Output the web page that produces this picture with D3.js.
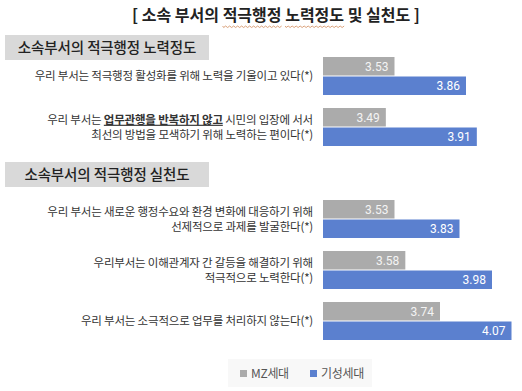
<!DOCTYPE html>
<html><head><meta charset="utf-8">
<script src="https://cdn.jsdelivr.net/npm/d3@7"></script>
<style>
html,body{margin:0;padding:0;background:#fff;}
svg{display:block;font-family:"Noto Sans CJK KR","Noto Sans",sans-serif;}
</style></head>
<body>
<svg id="chart" width="522" height="391"></svg>
<script>
const title = "[ 소속 부서의 적극행정 노력정도 및 실천도 ]";
const sections = ["소속부서의 적극행정 노력정도", "소속부서의 적극행정 실천도"];
const seriesNames = ["MZ세대", "기성세대"];
const itemSection = [0, 0, 1, 1, 1];
// each line: array of [text, emphasised?]
const itemLabels = [
  [[["우리 부서는 적극행정 활성화를 위해 노력을 기울이고 있다(*)", false]]],
  [[["우리 부서는 ", false], ["업무관행을 반복하지 않고", true], [" 시민의 입장에 서서", false]],
   [["최선의 방법을 모색하기 위해 노력하는 편이다(*)", false]]],
  [[["우리 부서는 새로운 행정수요와 환경 변화에 대응하기 위해", false]],
   [["선제적으로 과제를 발굴한다(*)", false]]],
  [[["우리부서는 이해관계자 간 갈등을 해결하기 위해", false]],
   [["적극적으로 노력한다(*)", false]]],
  [[["우리 부서는 소극적으로 업무를 처리하지 않는다(*)", false]]]
];
const mzValues = [3.53, 3.49, 3.53, 3.58, 3.74];
const giValues = [3.86, 3.91, 3.83, 3.98, 4.07];
const colors = ["#ababab", "#5b80cf"];

const svg = d3.select("#chart");

// title
const titleText = svg.append("text")
  .attr("x", 276).attr("y", 21).attr("text-anchor", "middle")
  .attr("font-size", 16).attr("font-weight", 700).attr("fill", "#222")
  .text(title);
// spell-check squiggles under two words
["적극행정", "노력정도"].forEach(w => {
  const node = titleText.node();
  const i = title.indexOf(w);
  const x0 = node.getStartPositionOfChar(i).x;
  const x1 = node.getEndPositionOfChar(i + w.length - 1).x;
  let d = `M${x0},26`;
  for (let x = x0; x < x1; x += 2) d += `L${x + 1},${(Math.round((x - x0) / 2) % 2) ? 26 : 27.5}`;
  svg.append("path").attr("d", d).attr("fill", "none")
    .attr("stroke", "#d08a5a").attr("stroke-width", 0.8);
});

const x = d3.scaleLinear().domain([3.2, 4.1]).range([323, 518]);

const sectionLayout = [
  {header: [35, 60], bars: [57, 146]},
  {header: [162, 187], bars: [200, 340]}
];

sections.forEach((s, si) => {
  const L = sectionLayout[si];
  svg.append("rect").attr("x", 5).attr("y", L.header[0]).attr("width", 204)
    .attr("height", L.header[1] - L.header[0]).attr("fill", "#d9d9d9");
  svg.append("text").attr("x", 107).attr("y", (L.header[0] + L.header[1]) / 2 + 5)
    .attr("text-anchor", "middle").attr("font-size", 14.5).attr("font-weight", 500)
    .attr("letter-spacing", -0.1).attr("fill", "#222").text(s);

  const idx = d3.range(itemSection.length).filter(i => itemSection[i] === si);
  const y = d3.scaleBand().domain(idx).range(L.bars).paddingInner(0.255);
  const y1 = d3.scaleBand().domain([0, 1]).range([0, y.bandwidth()]);

  idx.forEach(i => {
    const g = svg.append("g").attr("transform", `translate(0,${y(i)})`);
    const vals = [mzValues[i], giValues[i]];
    g.selectAll("rect").data(vals).join("rect")
      .attr("x", x(3.2)).attr("y", (d, k) => y1(k) + (k ? 0.5 : 0))
      .attr("width", d => x(d) - x(3.2)).attr("height", y1.bandwidth() - 0.5)
      .attr("fill", (d, k) => colors[k]);
    g.selectAll("text.v").data(vals).join("text").attr("class", "v")
      .attr("x", d => x(d) - 6).attr("y", (d, k) => y1(k) + y1.bandwidth() / 2 + 4.5)
      .attr("text-anchor", "end").attr("font-size", 12)
      .attr("font-family", "Roboto, 'Noto Sans', sans-serif")
      .attr("fill", (d, k) => k ? "#fff" : "#f4f4f4").text(d => d.toFixed(2));

    const lines = itemLabels[i];
    const cy = y.bandwidth() / 2;
    const lh = 15.5;
    lines.forEach((ln, li) => {
      const t = g.append("text").attr("x", 313)
        .attr("y", cy + (li - (lines.length - 1) / 2) * lh + 4.5)
        .attr("text-anchor", "end").attr("font-size", 11.5).attr("letter-spacing", -0.2)
        .attr("fill", "#333");
      ln.forEach(([txt, em]) => {
        const ts = t.append("tspan").text(txt);
        if (em) ts.attr("font-weight", 700).style("text-decoration", "underline");
      });
    });
  });
});

// legend
const lg = svg.append("g");
lg.append("rect").attr("x", 228).attr("y", 359).attr("width", 144).attr("height", 28)
  .attr("fill", "#f8f8f8");
const lx = [240, 310];
seriesNames.forEach((n, k) => {
  lg.append("rect").attr("x", lx[k]).attr("y", 370).attr("width", 7).attr("height", 7)
    .attr("fill", colors[k]);
  lg.append("text").attr("x", lx[k] + 11).attr("y", 378).attr("font-size", 12)
    .attr("letter-spacing", -0.3).attr("fill", "#555").text(n);
});
</script>
</body></html>
